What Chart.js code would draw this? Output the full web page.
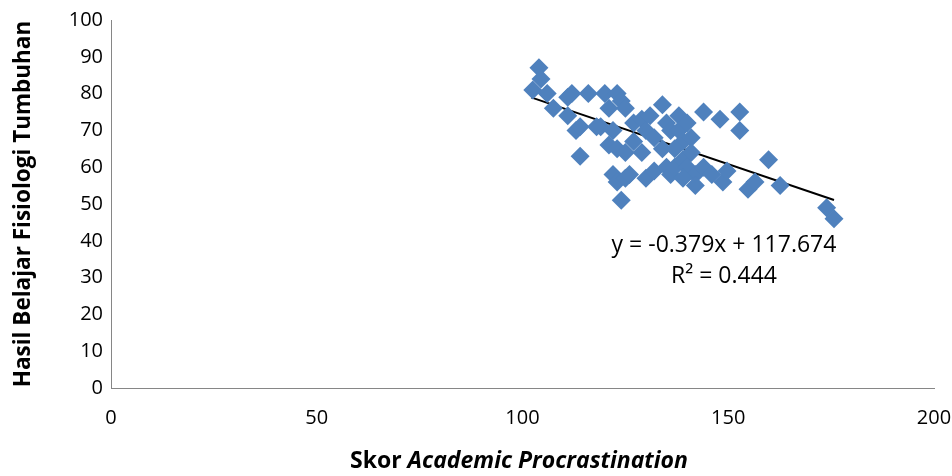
<!DOCTYPE html>
<html>
<head>
<meta charset="utf-8">
<script src="https://cdn.jsdelivr.net/npm/chart.js@4.4.1/dist/chart.umd.min.js"></script>
<style>
  html, body { margin: 0; padding: 0; background: #fff; }
  #wrap { width: 952px; height: 476px; }
</style>
</head>
<body>
<div id="wrap"><canvas id="chart"></canvas></div>
<script>
// Skor Academic Procrastination vs Hasil Belajar Fisiologi Tumbuhan
const procrastination = [104, 104.5, 102.5, 106, 107.5, 111, 112, 111, 113, 114, 116, 114, 119, 120, 121, 123, 124, 125,
  121, 122, 123, 125, 122, 123, 124, 125, 126, 127, 129, 130, 131, 129, 130, 132, 134, 135, 136, 134, 135, 136,
  137, 138, 138, 139, 139, 140, 141, 140, 141, 142, 142, 144, 144, 146, 148, 148.7, 149.7, 152.8, 152.8, 154.8, 156.5, 159.8,
  162.6, 173.9, 175.7, 137, 132, 127, 118, 139];
const hasilBelajar = [87, 84, 81, 80, 76, 74, 80, 79, 70, 71, 80, 63, 71, 80, 76, 80, 78, 76,
  66, 70, 65, 64, 58, 56, 51, 57, 58, 72, 73, 70, 74, 64, 57, 59, 77, 72, 70, 65, 60, 58,
  60, 74, 70, 67, 62, 72, 68, 60, 64, 58, 55, 75, 60, 58, 73, 56, 59, 75, 70, 54, 56, 62,
  55, 49, 46, 65, 68, 67, 71, 57];
// linear trend line endpoints (y = -0.379x + 117.674)
const trendX = [102.1, 175.7];
const trendY = [78.98, 51.08];
const trendLabel = ["y = -0.379x + 117.674", "R\u00b2 = 0.444"];
const xTicks = [0, 50, 100, 150, 200];
const yTicks = [0, 10, 20, 30, 40, 50, 60, 70, 80, 90, 100];

const FONT = "'Open Sans', 'Liberation Sans', sans-serif";

const extraText = {
  id: 'extraText',
  afterDraw(chart) {
    const {ctx} = chart;
    ctx.save();
    ctx.fillStyle = '#000';
    ctx.textBaseline = 'middle';
    // trend equation
    ctx.font = '23px ' + FONT;
    ctx.textAlign = 'center';
    ctx.fillText(trendLabel[0], 724, 245);
    ctx.fillText(trendLabel[1], 724, 276);
    // x axis title, mixed bold / bold italic
    const a = 'Skor ', b = 'Academic Procrastination';
    ctx.font = 'bold 23px ' + FONT;
    const wa = ctx.measureText(a).width;
    ctx.font = 'italic bold 23px ' + FONT;
    const wb = ctx.measureText(b).width;
    let x = 519 - (wa + wb) / 2;
    ctx.textAlign = 'left';
    ctx.font = 'bold 23px ' + FONT;
    ctx.fillText(a, x, 461);
    ctx.font = 'italic bold 23px ' + FONT;
    ctx.fillText(b, x + wa, 461);
    ctx.restore();
  }
};

new Chart(document.getElementById('chart'), {
  type: 'scatter',
  data: {
    datasets: [{
      label: 'Hasil Belajar',
      data: procrastination.map((v, i) => ({x: v, y: hasilBelajar[i]})),
      pointStyle: 'rectRot',
      pointRadius: 9.5,
      pointHoverRadius: 9.5,
      backgroundColor: '#4F81BD',
      borderColor: '#4F81BD',
      borderWidth: 0
    }, {
      type: 'line',
      label: 'Linear',
      data: trendX.map((v, i) => ({x: v, y: trendY[i]})),
      borderColor: '#000',
      borderWidth: 2,
      pointRadius: 0,
      fill: false
    }]
  },
  options: {
    responsive: true,
    maintainAspectRatio: false,
    animation: false,
    layout: { padding: { top: 20, right: 18, left: 10, bottom: 0 } },
    plugins: { legend: { display: false }, tooltip: { enabled: false } },
    scales: {
      x: {
        type: 'linear',
        min: 0, max: 200,
        afterBuildTicks: s => { s.ticks = xTicks.map(v => ({value: v})); },
        afterFit: s => { s.height = 88; s.paddingRight = 0; s.paddingLeft = 0; },
        grid: { display: false, drawTicks: true, tickLength: 6, color: '#868686' },
        border: { color: '#868686', width: 1 },
        ticks: { color: '#000', font: { family: FONT, size: 20 }, padding: 12, maxRotation: 0 }
      },
      y: {
        min: 0, max: 100,
        afterBuildTicks: s => { s.ticks = yTicks.map(v => ({value: v})); },
        afterFit: s => { s.width = 101; },
        grid: { display: false, drawTicks: true, tickLength: 6, color: '#868686' },
        border: { color: '#868686', width: 1 },
        ticks: { color: '#000', font: { family: FONT, size: 20 }, padding: 2 },
        title: {
          display: true,
          text: 'Hasil Belajar Fisiologi Tumbuhan',
          color: '#000',
          font: { family: FONT, size: 22.5, weight: 'bold' },
          padding: { top: 0, bottom: 2 }
        }
      }
    }
  },
  plugins: [extraText]
});
</script>
</body>
</html>
